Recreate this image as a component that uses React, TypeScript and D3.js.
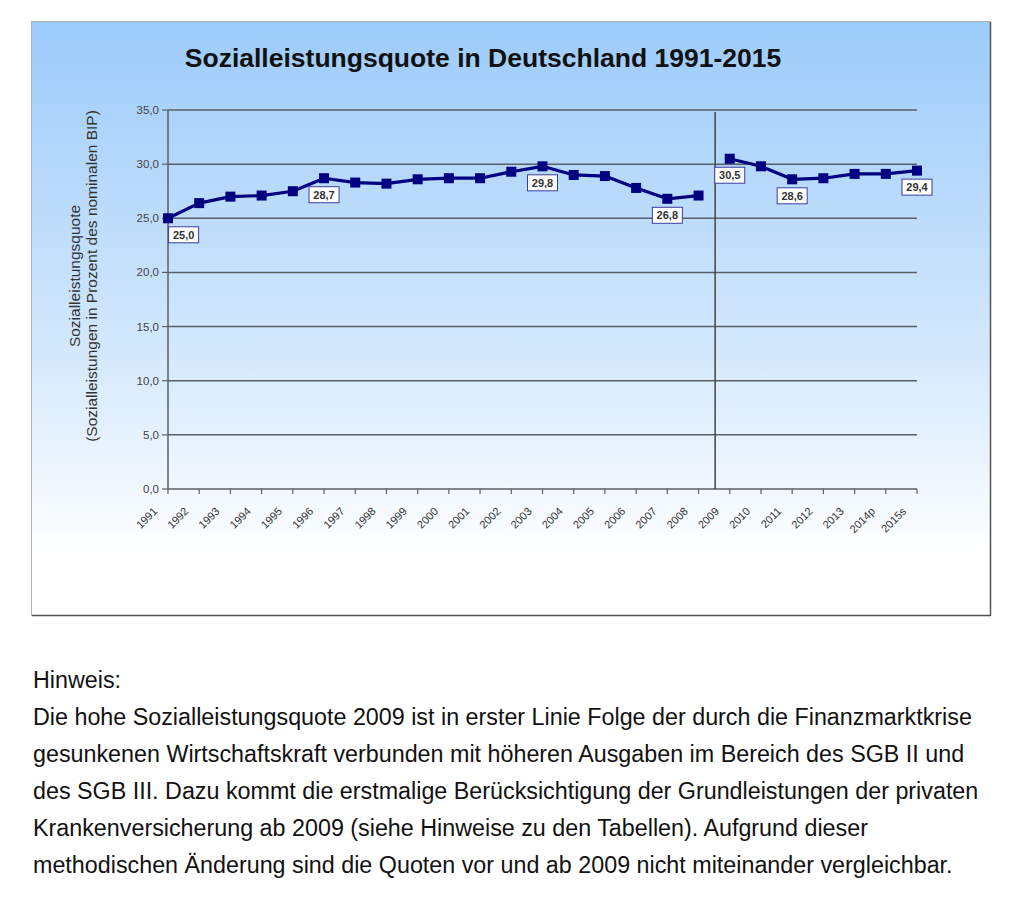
import React from "react";
import * as d3 from "d3";

const categories = ["1991","1992","1993","1994","1995","1996","1997","1998","1999","2000","2001","2002","2003","2004","2005","2006","2007","2008","2009","2010","2011","2012","2013","2014p","2015s"];
const values = [25.0,26.4,27.0,27.1,27.5,28.7,28.3,28.2,28.6,28.7,28.7,29.3,29.8,29.0,28.9,27.8,26.8,27.1,30.5,29.8,28.6,28.7,29.1,29.1,29.4];
const labeledYears = ["1991","1996","2003","2007","2009","2011","2015s"];
const yTicks = [0,5,10,15,20,25,30,35];
const breakBefore = "2009";
const title = "Sozialleistungsquote in Deutschland 1991-2015";
const yTitle = ["Sozialleistungsquote", "(Sozialleistungen in Prozent des nominalen BIP)"];
const noteLines = [
  "Hinweis:",
  "Die hohe Sozialleistungsquote 2009 ist in erster Linie Folge der durch die Finanzmarktkrise",
  "gesunkenen Wirtschaftskraft verbunden mit höheren Ausgaben im Bereich des SGB II und",
  "des SGB III. Dazu kommt die erstmalige Berücksichtigung der Grundleistungen der privaten",
  "Krankenversicherung ab 2009 (siehe Hinweise zu den Tabellen). Aufgrund dieser",
  "methodischen Änderung sind die Quoten vor und ab 2009 nicht miteinander vergleichbar.",
];

const fmt = (v: number) => v.toFixed(1).replace(".", ",");
const FONT = "'Liberation Sans', Arial, Helvetica, sans-serif";

export default function App() {
  const W = 1024, H = 899;
  const x = d3.scalePoint<string>().domain(categories).range([168, 917]);
  const y = d3.scaleLinear().domain([0, 35]).range([489, 110]);
  const data = categories.map((c, i) => ({ c, v: values[i] }));
  const bi = categories.indexOf(breakBefore);
  const seg1 = data.slice(0, bi);
  const seg2 = data.slice(bi);
  const line = d3.line<{ c: string; v: number }>().x(d => x(d.c)!).y(d => y(d.v));
  const sepX = ((x(categories[bi - 1])! + x(categories[bi])!) / 2) + 1;
  const step = x.step();

  return (
    <svg width={W} height={H} style={{ position: "absolute", left: 0, top: 0, background: "#fff" }} fontFamily={FONT}>
      <defs>
        <linearGradient id="bg" x1="0" y1="0" x2="0" y2="1">
          <stop offset="0" stopColor="#9ccbfa" />
          <stop offset="0.55" stopColor="#d3e8fc" />
          <stop offset="0.9" stopColor="#ffffff" />
          <stop offset="1" stopColor="#ffffff" />
        </linearGradient>
      </defs>
      <rect x={31.5} y={21.5} width={959} height={594} fill="url(#bg)" stroke="#b0b0b0" strokeWidth={1} />
      <line x1={990.5} y1={22} x2={990.5} y2={616} stroke="#555" strokeWidth={1.5} />
      <line x1={32} y1={615.5} x2={991} y2={615.5} stroke="#555" strokeWidth={1.5} />

      <text x={483} y={67} textAnchor="middle" fontSize={26.5} fontWeight="bold" fill="#111">{title}</text>

      {/* gridlines */}
      {yTicks.map(t => (
        <g key={t}>
          <line x1={168} x2={917} y1={y(t)} y2={y(t)} stroke="#5a5f66" strokeWidth={1.5} />
          <line x1={162} x2={168} y1={y(t)} y2={y(t)} stroke="#5a5f66" strokeWidth={1.2} />
          <text x={159} y={y(t) + 4} textAnchor="end" fontSize={11.5} fill="#444">{fmt(t)}</text>
        </g>
      ))}
      {/* axes */}
      <line x1={168} x2={168} y1={y(35)} y2={y(0)} stroke="#5a5f66" strokeWidth={1.5} />
      {categories.map(c => (
        <line key={c} x1={x(c)} x2={x(c)} y1={y(0)} y2={y(0) + 5} stroke="#5a5f66" strokeWidth={1.2} />
      ))}
      {categories.map(c => (
        <text key={c} transform={`translate(${x(c)! - 10},${y(0) + 23}) rotate(-45)`} textAnchor="end" fontSize={11} fill="#333">{c}</text>
      ))}

      {/* separator */}
      <line x1={sepX} x2={sepX} y1={112} y2={y(0)} stroke="#444" strokeWidth={1.5} />

      {/* y title */}
      <g transform={`translate(80,276) rotate(-90)`}>
        <text textAnchor="middle" fontSize={15.5} fill="#333">
          <tspan x={0} dy={0}>{yTitle[0]}</tspan>
          <tspan x={0} dy={17}>{yTitle[1]}</tspan>
        </text>
      </g>

      {/* lines */}
      <path d={line(seg1)!} fill="none" stroke="#000080" strokeWidth={3.2} strokeLinejoin="round" />
      <path d={line(seg2)!} fill="none" stroke="#000080" strokeWidth={3.2} strokeLinejoin="round" />
      {data.map(d => (
        <rect key={d.c} x={x(d.c)! - 5} y={y(d.v) - 5} width={10} height={10} fill="#000080" />
      ))}

      {/* data labels */}
      {data.filter(d => labeledYears.includes(d.c)).map((d, i) => {
        const cx = x(d.c)! + (i === 0 ? step / 2 : 0);
        const cy = y(d.v) + 16.5;
        return (
          <g key={d.c}>
            <rect x={cx - 15} y={cy - 8} width={30} height={16} fill="#fff" stroke="#3c3ca0" strokeWidth={1} />
            <text x={cx} y={cy + 4} textAnchor="middle" fontSize={11} fontWeight="bold" fill="#333">{fmt(d.v)}</text>
          </g>
        );
      })}

      {/* note */}
      {noteLines.map((l, i) => (
        <text key={i} x={33} y={688 + i * 37} fontSize={23.3} fill="#111">{l}</text>
      ))}
    </svg>
  );
}
